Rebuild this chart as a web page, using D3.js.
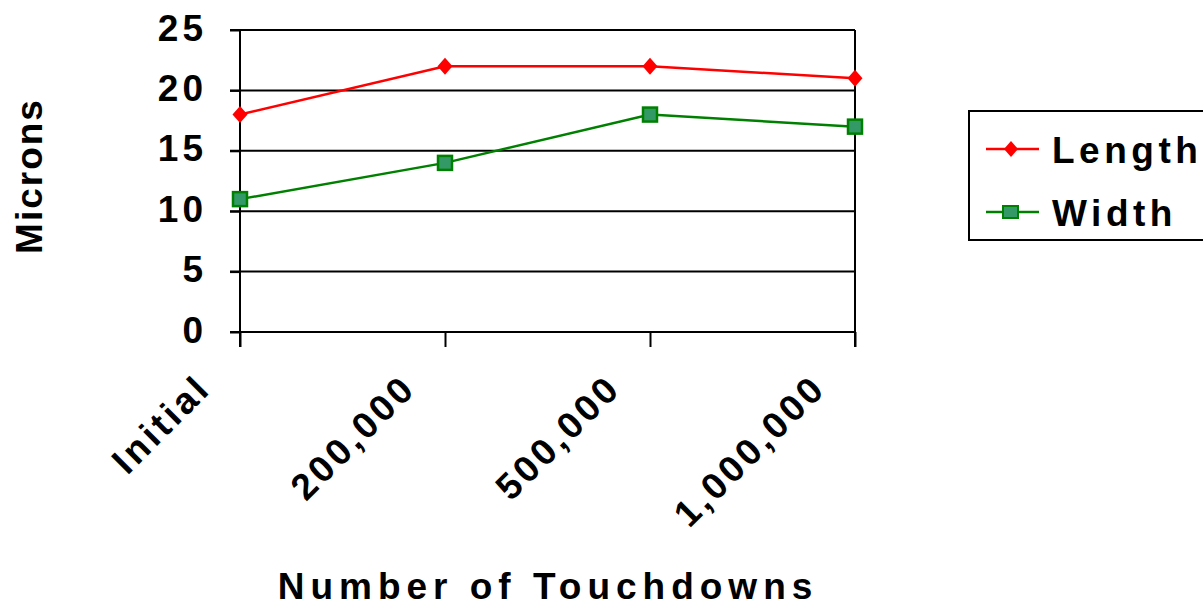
<!DOCTYPE html>
<html>
<head>
<meta charset="utf-8">
<script src="https://cdn.jsdelivr.net/npm/d3@7"></script>
<style>
  html, body { margin: 0; padding: 0; background: #fff; }
  svg { display: block; font-family: "Liberation Sans", Arial, sans-serif; font-weight: bold; }
</style>
</head>
<body>
<svg id="chart" width="1203" height="608"></svg>
<script>
// Chart data
const categories = ["Initial", "200,000", "500,000", "1,000,000"];
const lengthValues = [18, 22, 22, 21];
const widthValues = [11, 14, 18, 17];
const yTicks = [0, 5, 10, 15, 20, 25];
const seriesNames = ["Length", "Width"];

const svg = d3.select("#chart");
const plot = { left: 240, right: 855, top: 30, bottom: 332 };
const FONT = 37;

const x = d3.scalePoint().domain(categories).range([plot.left, plot.right]);
const y = d3.scaleLinear().domain([0, 25]).range([plot.bottom, plot.top]);

// Diamond marker: w wide, h tall, centred on the origin
const diamondPath = (w, h) => `M0,${-h / 2}L${w / 2},0L0,${h / 2}L${-w / 2},0Z`;

// Horizontal gridlines
svg.append("g").selectAll("line").data(yTicks).join("line")
  .attr("x1", plot.left - 10).attr("x2", plot.right)
  .attr("y1", d => y(d)).attr("y2", d => y(d))
  .attr("stroke", "#000").attr("stroke-width", 2);

// Right border
svg.append("line")
  .attr("x1", plot.right).attr("x2", plot.right)
  .attr("y1", plot.top).attr("y2", plot.bottom + 15)
  .attr("stroke", "#000").attr("stroke-width", 2);

// Y axis
const yAxis = svg.append("g").attr("transform", `translate(${plot.left},0)`)
  .call(d3.axisLeft(y).tickValues(yTicks).tickSize(10).tickPadding(23));
yAxis.select(".domain").remove();
yAxis.append("line").attr("x1", 0).attr("x2", 0)
  .attr("y1", plot.top).attr("y2", plot.bottom + 15)
  .attr("stroke", "#000").attr("stroke-width", 2);
yAxis.selectAll(".tick line").attr("stroke", "#000").attr("stroke-width", 2);
yAxis.selectAll(".tick text")
  .attr("fill", "#000").style("font-size", FONT + "px").style("font-weight", "bold")
  .style("letter-spacing", "4px").attr("dy", "0.27em");

// X axis
const xAxis = svg.append("g").attr("transform", `translate(0,${plot.bottom})`)
  .call(d3.axisBottom(x).tickSize(15).tickPadding(0));
xAxis.select(".domain").remove();
xAxis.selectAll(".tick line").attr("stroke", "#000").attr("stroke-width", 2);
xAxis.selectAll(".tick text")
  .attr("fill", "#000").style("font-size", FONT + "px").style("font-weight", "bold")
  .style("letter-spacing", "3.5px")
  .attr("text-anchor", "end")
  .attr("transform", "translate(-46,40) rotate(-45)")
  .attr("y", 0).attr("dy", "0.7em");

// Axis titles
svg.append("text")
  .attr("transform", `translate(42,176) rotate(-90)`)
  .attr("text-anchor", "middle")
  .style("font-size", FONT + "px").style("letter-spacing", "2px")
  .text("Microns");
svg.append("text")
  .attr("x", 548).attr("y", 599)
  .attr("text-anchor", "middle")
  .style("font-size", FONT + "px").style("letter-spacing", "6px")
  .text("Number of Touchdowns");

// Series
const line = d3.line().x((d, i) => x(categories[i])).y(d => y(d));

svg.append("path").datum(lengthValues)
  .attr("d", line).attr("fill", "none").attr("stroke", "#ff0000").attr("stroke-width", 2.5);
svg.append("g").selectAll("path").data(lengthValues).join("path")
  .attr("d", diamondPath(15, 17))
  .attr("transform", (d, i) => `translate(${x(categories[i])},${y(d)})`)
  .attr("fill", "#ff0000");

svg.append("path").datum(widthValues)
  .attr("d", line).attr("fill", "none").attr("stroke", "#008000").attr("stroke-width", 2.5);
svg.append("g").selectAll("rect").data(widthValues).join("rect")
  .attr("x", (d, i) => x(categories[i]) - 7).attr("y", d => y(d) - 7)
  .attr("width", 14).attr("height", 14)
  .attr("fill", "#339966").attr("stroke", "#008000").attr("stroke-width", 2.5);

// Legend
const legend = svg.append("g");
legend.append("rect")
  .attr("x", 969).attr("y", 111).attr("width", 260).attr("height", 129)
  .attr("fill", "#fff").attr("stroke", "#000").attr("stroke-width", 2);
const legendRows = [
  { name: seriesNames[0], y: 149, color: "#ff0000" },
  { name: seriesNames[1], y: 212, color: "#008000" }
];
legendRows.forEach((r, i) => {
  legend.append("line").attr("x1", 986).attr("x2", 1039)
    .attr("y1", r.y).attr("y2", r.y)
    .attr("stroke", r.color).attr("stroke-width", 2.5);
  if (i === 0) {
    legend.append("path").attr("d", diamondPath(14, 16))
      .attr("transform", `translate(1011,${r.y})`).attr("fill", r.color);
  } else {
    legend.append("rect").attr("x", 1003).attr("y", r.y - 6)
      .attr("width", 15).attr("height", 12)
      .attr("fill", "#339966").attr("stroke", "#008000").attr("stroke-width", 2);
  }
  legend.append("text").attr("x", 1052).attr("y", r.y + 14)
    .style("font-size", FONT + "px").style("letter-spacing", "4.5px")
    .text(r.name);
});
</script>
</body>
</html>
